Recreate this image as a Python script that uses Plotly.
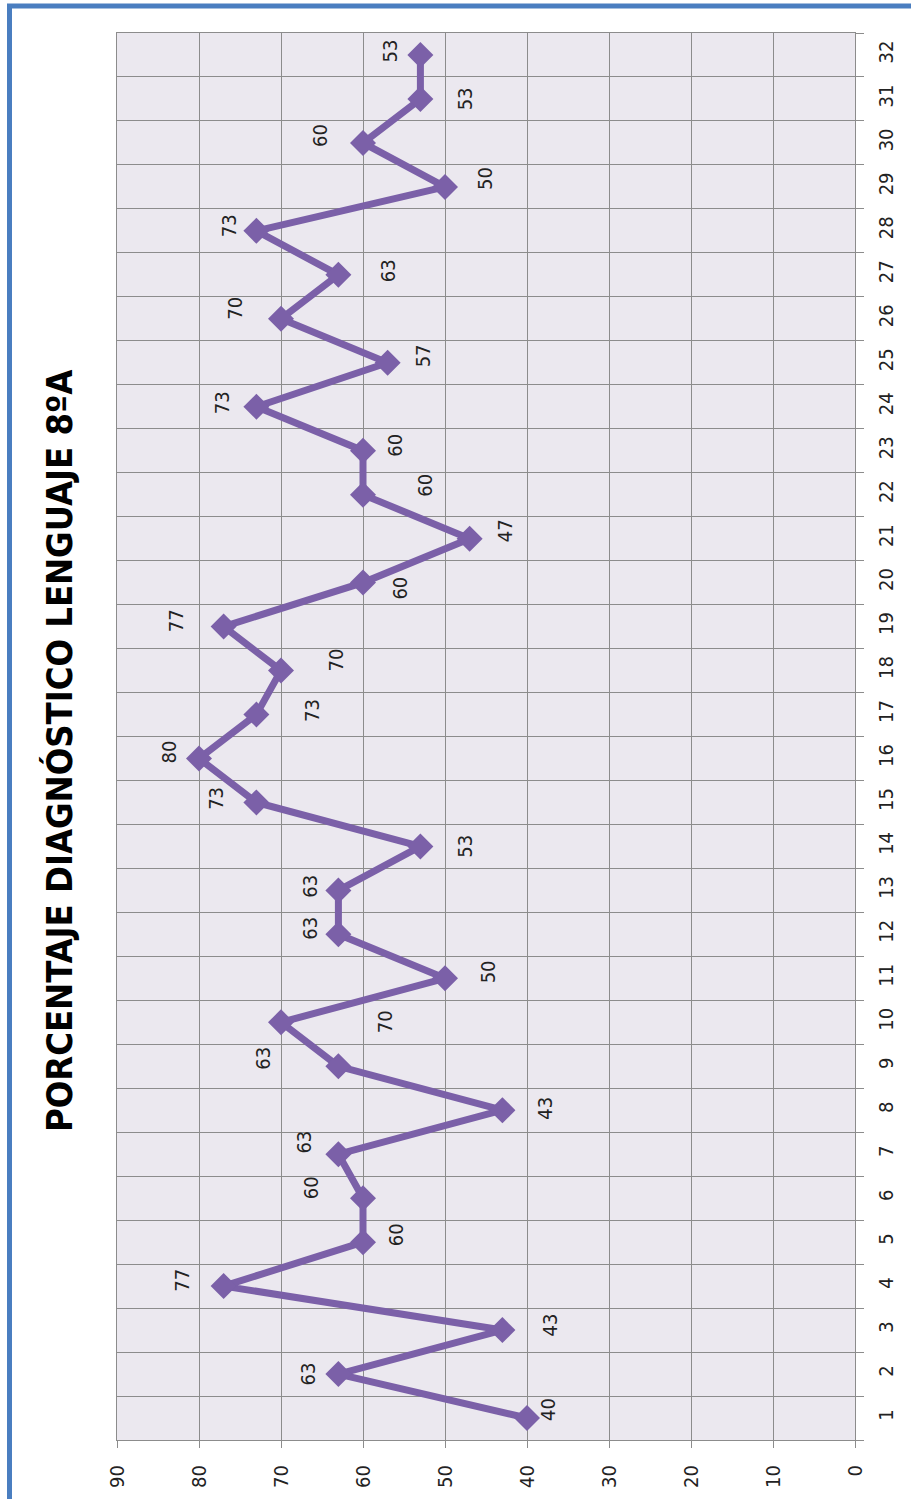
import plotly.graph_objects as go

# Student numbers (category axis) and their diagnostic percentages
estudiantes = [str(i) for i in range(1, 33)]
porcentajes = [40, 63, 43, 77, 60, 60, 63, 43, 63, 70, 50, 63, 63, 53, 73, 80,
               73, 70, 77, 60, 47, 60, 60, 73, 57, 70, 63, 73, 50, 60, 53, 53]
valor_ticks = list(range(0, 91, 10))
titulo = "PORCENTAJE DIAGNÓSTICO LENGUAJE 8ºA"

# Pixel offsets of each value label from its marker (right/up positive)
label_dx = [21, -30, 48, -41, 33, -52, -34, 43, -75, 104, 43, -28, -28, 45, -40, -30,
            55, 55, -48, 37, 35, 62, 32, -35, 35, -46, 49, -28, 40, -43, 45, -30]
label_dy = [8, 0, 5, 6, 7, 10, 12, 2, 8, 0, 6, 6, 4, 0, 4, 6,
            4, 10, 6, -6, 8, 9, 5, 4, 7, 10, 4, 5, 8, 7, 0, 4]

W, H = 911, 1499
ML, MR, MT, MB = 117, 56, 33, 59
PW, PH = W - ML - MR, H - MT - MB

LINE = "#7B60A8"
GRID = "#8C8C8C"
TXT_FONT = "DejaVu Sans Condensed, DejaVu Sans, sans-serif"


def px_x(p):
    return (p - ML) / PW


def px_y(p):
    return (H - MB - p) / PH


fig = go.Figure()
fig.add_trace(go.Scatter(
    x=porcentajes, y=estudiantes, mode="lines+markers",
    line=dict(color=LINE, width=7),
    marker=dict(symbol="diamond", size=20, color=LINE),
    hoverinfo="skip", showlegend=False,
))

# Value labels; on a category axis annotations are placed by category index
for idx, (v, dx, dy) in enumerate(zip(porcentajes, label_dx, label_dy)):
    fig.add_annotation(
        x=v, y=idx, text=str(v), showarrow=False, textangle=-90,
        xanchor="center", yanchor="middle",
        xshift=dx, yshift=dy,
        font=dict(family=TXT_FONT, size=20, color="#222222"),
    )

fig.add_annotation(
    x=px_x(59), y=px_y(751), xref="paper", yref="paper",
    xanchor="center", yanchor="middle",
    text="<b>" + titulo + "</b>", showarrow=False, textangle=-90,
    font=dict(family="Liberation Sans Narrow, DejaVu Sans Condensed, sans-serif",
              size=36, color="#000000"),
)

# Outer blue frame
fig.add_shape(
    type="rect", xref="paper", yref="paper",
    x0=px_x(9.5), x1=px_x(W + 10), y0=px_y(H + 10), y1=px_y(6),
    line=dict(color="#4A7EC0", width=5), fillcolor="rgba(0,0,0,0)", layer="below",
)

fig.update_xaxes(
    range=[90, 0], tickvals=valor_ticks, tickangle=-90,
    showgrid=True, gridcolor=GRID, gridwidth=1,
    showline=True, linecolor=GRID, linewidth=1, mirror=True,
    ticks="outside", ticklen=7, tickcolor=GRID,
    tickfont=dict(family=TXT_FONT, size=20, color="#222222"),
    ticklabelstandoff=9, zeroline=False,
)
fig.update_yaxes(
    type="category", categoryorder="array", categoryarray=estudiantes,
    range=[-0.5, 31.5], side="right", tickangle=-90, tickson="boundaries",
    showgrid=True, gridcolor=GRID, gridwidth=1,
    showline=True, linecolor=GRID, linewidth=1, mirror=True,
    ticks="outside", ticklen=8, tickcolor=GRID,
    tickfont=dict(family=TXT_FONT, size=20, color="#222222"),
    ticklabelstandoff=13,
)

fig.update_layout(
    width=W, height=H, autosize=False,
    margin=dict(l=ML, r=MR, t=MT, b=MB, pad=0),
    paper_bgcolor="#FFFFFF", plot_bgcolor="#EBE8EF",
)

fig.write_html("out.html")
